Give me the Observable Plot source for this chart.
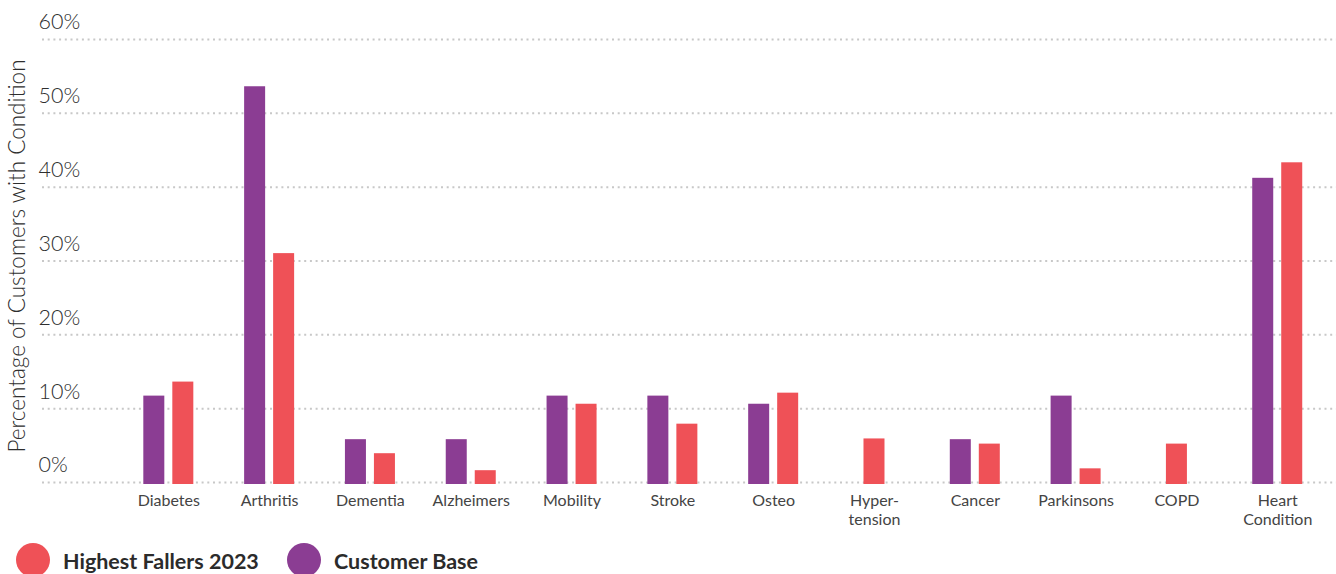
<!DOCTYPE html>
<html>
<head>
<meta charset="utf-8">
<script src="https://cdn.jsdelivr.net/npm/d3@7"></script>
<script src="https://cdn.jsdelivr.net/npm/@observablehq/plot@0.6"></script>
<style>
  html, body { margin: 0; padding: 0; background: #fff; }
  body { width: 1336px; height: 574px; overflow: hidden; font-family: Lato, "Open Sans", sans-serif; }
  #legend { position: relative; height: 32px; }
  .dot { position: absolute; top: 1px; width: 34px; height: 34px; border-radius: 50%; }
  .lab { position: absolute; top: 7px; font-size: 21.5px; font-weight: 700; color: #2b2b2b; line-height: 24px; white-space: nowrap; }
</style>
</head>
<body>
<div id="chart"></div>
<div id="legend"></div>
<script>
const categories = ["Diabetes", "Arthritis", "Dementia", "Alzheimers", "Mobility", "Stroke", "Osteo", "Hyper-\ntension", "Cancer", "Parkinsons", "COPD", "Heart\nCondition"];
const customerBase = [11.7, 53.6, 5.8, 5.8, 11.7, 11.7, 10.6, null, 5.8, 11.7, null, 41.2];
const highestFallers = [13.6, 31.0, 3.9, 1.6, 10.6, 7.9, 12.1, 5.9, 5.2, 1.85, 5.2, 43.3];
const yTicks = [0, 10, 20, 30, 40, 50, 60];
const seriesNames = ["Highest Fallers 2023", "Customer Base"];
const seriesColors = ["#EF5157", "#8B3D93"];

const rows = categories.map((c, i) => ({cat: c, base: customerBase[i], fallers: highestFallers[i]}));
const paired = rows.filter(d => d.base != null && d.fallers != null);
const baseOnly = rows.filter(d => d.base != null);
const fallersSingle = rows.filter(d => d.base == null && d.fallers != null);

const chart = Plot.plot({
  width: 1336,
  height: 542,
  marginTop: 39,
  marginBottom: 60,
  marginLeft: 42,
  marginRight: 0,
  style: {fontFamily: "Lato, 'Open Sans', sans-serif", color: "#444", background: "#fff"},
  x: {domain: categories, paddingInner: 0.504, paddingOuter: 0.67, align: 0.75, round: false, label: null},
  y: {domain: [0, 60], label: null},
  marks: [
    Plot.gridY(yTicks, {stroke: "#c8c8c8", strokeOpacity: 1, strokeWidth: 2, strokeDasharray: "2,3.7"}),
    Plot.barY(baseOnly, {x: "cat", y: "base", fill: seriesColors[1], insetRight: 29, insetBottom: -2}),
    Plot.barY(paired, {x: "cat", y: "fallers", fill: seriesColors[0], insetLeft: 29, insetBottom: -2}),
    Plot.barY(fallersSingle, {x: "cat", y: "fallers", fill: seriesColors[0], insetLeft: 14.5, insetRight: 14.5, insetBottom: -2}),
    Plot.axisY(yTicks, {tickSize: 0, textAnchor: "start", dx: 5, dy: -17, fontSize: 21.5, fontWeight: 300, fill: "#2e2e2e", tickFormat: d => d + "%", label: null}),
    Plot.axisX({tickSize: 0, tickPadding: 10, fontSize: 16, lineHeight: 1.2, fill: "#444", label: null}),
    Plot.text(["Percentage of Customers with Condition"], {frameAnchor: "left", rotate: -90, dx: -25, dy: -5, fontSize: 22.5, fontWeight: 300, fill: "#2e2e2e", textAnchor: "middle", lineAnchor: "middle"})
  ]
});
document.getElementById("chart").appendChild(chart);

const legend = document.getElementById("legend");
const dotLeft = [16, 287];
const labLeft = [63, 334];
seriesNames.forEach((name, i) => {
  const dot = document.createElement("div");
  dot.className = "dot";
  dot.style.left = dotLeft[i] + "px";
  dot.style.background = seriesColors[i];
  legend.appendChild(dot);
  const lab = document.createElement("div");
  lab.className = "lab";
  lab.style.left = labLeft[i] + "px";
  lab.textContent = name;
  legend.appendChild(lab);
});
</script>
</body>
</html>
